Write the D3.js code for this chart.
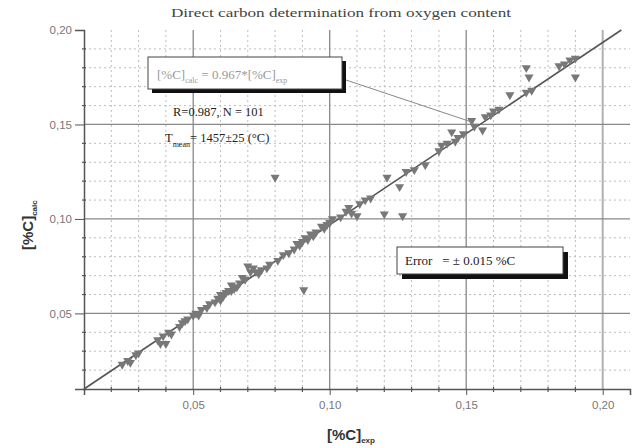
<!DOCTYPE html>
<html><head><meta charset="utf-8">
<script src="https://cdn.jsdelivr.net/npm/d3@7"></script>
<style>body{margin:0;background:#fff}</style>
</head><body><svg id="c" width="634" height="448"></svg>
<script>
const titleText = "Direct carbon determination  from oxygen content";
const majorTicks = [0.05, 0.10, 0.15, 0.20];
const tickLabels = ["0,05", "0,10", "0,15", "0,20"];
const slope = 0.967;
const expValues = [
  0.024,0.026,0.027,0.029,0.030,
  0.037,0.038,0.039,0.040,0.041,0.042,
  0.045,0.046,0.047,0.048,0.050,
  0.051,0.052,0.053,0.055,0.056,
  0.058,0.059,0.060,0.060,0.061,0.062,0.063,0.064,0.064,0.065,0.066,
  0.067,0.068,0.069,0.070,0.071,0.072,0.073,0.074,0.075,0.077,0.078,0.081,
  0.083,0.085,0.087,0.088,0.089,
  0.090,0.091,0.092,0.093,0.094,0.095,0.097,0.098,0.099,0.100,0.101,
  0.104,0.106,0.107,0.108,0.110,0.111,0.113,0.115,
  0.080,0.0905,0.120,0.1267,
  0.121,0.1256,0.128,0.131,0.135,
  0.140,0.141,0.143,0.1447,0.146,0.147,0.149,
  0.152,0.153,0.156,0.157,0.159,0.160,0.162,
  0.166,0.172,0.172,0.173,0.174,
  0.184,0.186,0.188,0.190,0.190
];
const calcValues = [
  0.023,0.025,0.024,0.028,0.029,
  0.036,0.034,0.038,0.034,0.040,0.039,
  0.043,0.045,0.046,0.047,0.049,
  0.050,0.049,0.052,0.053,0.055,
  0.056,0.058,0.057,0.060,0.059,0.061,0.062,0.062,0.065,0.063,0.064,
  0.066,0.069,0.068,0.075,0.072,0.074,0.072,0.071,0.073,0.074,0.076,0.078,
  0.081,0.082,0.084,0.087,0.086,
  0.088,0.090,0.089,0.092,0.091,0.093,0.096,0.095,0.097,0.098,0.100,
  0.101,0.104,0.106,0.103,0.1016,0.108,0.110,0.111,
  0.122,0.0624,0.1026,0.1016,
  0.122,0.117,0.125,0.126,0.1286,
  0.136,0.139,0.140,0.146,0.141,0.143,0.145,
  0.152,0.149,0.147,0.154,0.155,0.157,0.158,
  0.1656,0.167,0.180,0.175,0.168,
  0.181,0.182,0.184,0.185,0.175
];
const pointer = [0.152, 0.1513];

const svg = d3.select("#c");
const x = d3.scaleLinear().domain([0.01, 0.21]).range([84, 630]);
const y = d3.scaleLinear().domain([0.01, 0.20]).range([389, 30]);
const minor = d3.range(2, 21).map(i => i / 100).filter(v => Math.round(v * 100) % 5 !== 0);

// minor grid
svg.append("g").selectAll("line").data(minor.filter(v => v <= 0.20)).join("line")
  .attr("x1", d => x(d)).attr("x2", d => x(d)).attr("y1", y(0.20)).attr("y2", y(0.01))
  .attr("stroke", "#bdbdbd").attr("stroke-width", 1).attr("stroke-dasharray", "2,3");
svg.append("g").selectAll("line").data(minor.filter(v => v < 0.20)).join("line")
  .attr("y1", d => y(d)).attr("y2", d => y(d)).attr("x1", x(0.01)).attr("x2", x(0.21))
  .attr("stroke", "#bdbdbd").attr("stroke-width", 1).attr("stroke-dasharray", "2,3");
// major grid
svg.append("g").selectAll("line").data(majorTicks).join("line")
  .attr("x1", d => x(d)).attr("x2", d => x(d)).attr("y1", y(0.20)).attr("y2", y(0.01))
  .attr("stroke", (d, i) => i === 3 ? "#b0b0b0" : "#888").attr("stroke-width", (d, i) => i === 3 ? 2 : 1.3);
svg.append("g").selectAll("line").data(majorTicks.filter(v => v < 0.20)).join("line")
  .attr("y1", d => y(d)).attr("y2", d => y(d)).attr("x1", x(0.01)).attr("x2", x(0.21))
  .attr("stroke", "#888").attr("stroke-width", 1.3);

// axes
const xAxis = d3.axisBottom(x).tickValues(majorTicks).tickFormat((d, i) => tickLabels[i]).tickSize(6).tickPadding(6);
const gx = svg.append("g").attr("transform", `translate(0,${y(0.01)})`).call(xAxis);
gx.select(".domain").attr("stroke", "#555").attr("stroke-width", 1.5);
gx.selectAll(".tick line").attr("stroke", "#555");
gx.selectAll("text").attr("font-family", "Liberation Sans, Arial, sans-serif").attr("font-size", 11.5).attr("fill", "#777");
const yAxis = d3.axisLeft(y).tickValues(majorTicks).tickFormat((d, i) => tickLabels[i]).tickSize(9).tickPadding(3);
const gy = svg.append("g").attr("transform", `translate(${x(0.01)},0)`).call(yAxis);
gy.select(".domain").attr("stroke", "#555").attr("stroke-width", 1.5);
gy.selectAll(".tick line").attr("stroke", "#555");
gy.selectAll("text").attr("font-family", "Liberation Sans, Arial, sans-serif").attr("font-size", 11.5).attr("fill", "#777");
// minor ticks
svg.append("g").selectAll("line").data(minor).join("line")
  .attr("x1", d => x(d)).attr("x2", d => x(d)).attr("y1", y(0.01) - 2).attr("y2", y(0.01) + 3)
  .attr("stroke", "#555").attr("stroke-width", 1.2);
svg.append("g").selectAll("line").data(minor.filter(v => v < 0.20)).join("line")
  .attr("y1", d => y(d)).attr("y2", d => y(d)).attr("x1", x(0.01) - 2).attr("x2", x(0.01) + 2)
  .attr("stroke", "#555").attr("stroke-width", 1.2);

// regression line
const xEnd = 0.20 / slope;
svg.append("line").attr("x1", x(0.01)).attr("y1", y(0.01)).attr("x2", x(xEnd)).attr("y2", y(slope * xEnd))
  .attr("stroke", "#555").attr("stroke-width", 1.6);

// points
const tri = d3.symbol().type(d3.symbolTriangle).size(36);
svg.append("g").selectAll("path").data(expValues.map((v, i) => [v, calcValues[i]])).join("path")
  .attr("d", tri).attr("transform", d => `translate(${x(d[0])},${y(d[1])}) rotate(180)`)
  .attr("fill", "#787878");

// pointer line
svg.append("line").attr("x1", 346).attr("y1", 80).attr("x2", x(pointer[0])).attr("y2", y(pointer[1]))
  .attr("stroke", "#888").attr("stroke-width", 1);

const serif = "Liberation Serif, Times New Roman, serif";
// title
svg.append("text").attr("x", 341).attr("y", 17).attr("text-anchor", "middle")
  .attr("font-family", serif).attr("font-size", 13).attr("fill", "#444")
  .attr("textLength", 340).attr("lengthAdjust", "spacingAndGlyphs").text(titleText);

// equation box
svg.append("rect").attr("x", 152).attr("y", 61).attr("width", 194).attr("height", 32).attr("fill", "#111");
svg.append("rect").attr("x", 148).attr("y", 57).attr("width", 194).attr("height", 32).attr("fill", "#fff").attr("stroke", "#444").attr("stroke-width", 1);
const eq = svg.append("text").attr("x", 157).attr("y", 79).attr("font-family", serif).attr("font-size", 13).attr("fill", "#999");
eq.append("tspan").text("[%C]");
eq.append("tspan").attr("font-size", 8).attr("dy", 4).text("calc");
eq.append("tspan").attr("dy", -4).text(" = 0.967*[%C]");
eq.append("tspan").attr("font-size", 8).attr("dy", 4).text("exp");

svg.append("text").attr("x", 173).attr("y", 116).attr("font-family", serif).attr("font-size", 12.5).attr("fill", "#222")
  .text("R=0.987, N = 101");
const tm = svg.append("text").attr("x", 165).attr("y", 142).attr("font-family", serif).attr("font-size", 12.5).attr("fill", "#222");
tm.append("tspan").text("T");
tm.append("tspan").attr("font-size", 8).attr("dy", 5).text("mean");
tm.append("tspan").attr("dy", -5).text("= 1457±25 (°C)");

// error box
svg.append("rect").attr("x", 402).attr("y", 252).attr("width", 166).attr("height", 27).attr("fill", "#111");
svg.append("rect").attr("x", 397).attr("y", 247).attr("width", 166).attr("height", 27).attr("fill", "#fff").attr("stroke", "#444").attr("stroke-width", 1);
svg.append("text").attr("x", 405).attr("y", 265).attr("font-family", serif).attr("font-size", 13).attr("fill", "#222")
  .attr("xml:space", "preserve").text("Error   = ± 0.015 %C");

// axis titles
const xt = svg.append("text").attr("x", 327).attr("y", 440).attr("font-family", "Liberation Sans, Arial, sans-serif")
  .attr("font-size", 15).attr("font-weight", "bold").attr("fill", "#333");
xt.append("tspan").text("[%C]");
xt.append("tspan").attr("font-size", 8).attr("dy", 3).text("exp");
const yt = svg.append("text").attr("transform", "translate(33,250) rotate(-90)").attr("font-family", "Liberation Sans, Arial, sans-serif")
  .attr("font-size", 15).attr("font-weight", "bold").attr("fill", "#333");
yt.append("tspan").text("[%C]");
yt.append("tspan").attr("font-size", 8).attr("dy", 4).text("calc");
</script></body></html>
